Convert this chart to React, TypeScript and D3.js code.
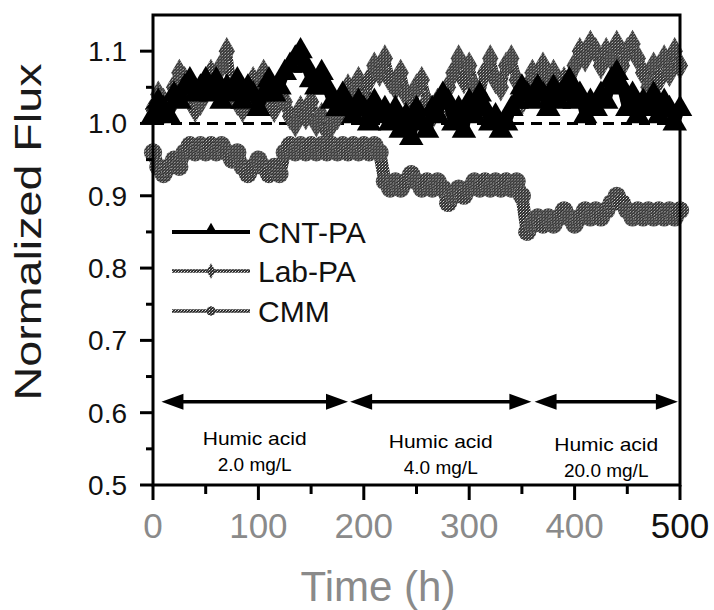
import * as d3 from "d3";

// time points (h)
const hours = [
  0, 5, 10, 15, 20, 25, 30, 35, 40, 45, 50, 55, 60, 65, 70, 75, 80, 85, 90, 95,
  100, 105, 110, 115, 120, 125, 130, 135, 140, 145, 150, 155, 160, 165, 170, 175, 180, 185, 190, 195,
  200, 205, 210, 215, 220, 225, 230, 235, 240, 245, 250, 255, 260, 265, 270, 275, 280, 285, 290, 295,
  300, 305, 310, 315, 320, 325, 330, 335, 340, 345, 350, 355, 360, 365, 370, 375, 380, 385, 390, 395,
  400, 405, 410, 415, 420, 425, 430, 435, 440, 445, 450, 455, 460, 465, 470, 475, 480, 485, 490, 495, 500,
];

const cntPA = [
  1.01, 1.03, 1.02, 1.01, 1.04, 1.03, 1.05, 1.06, 1.04, 1.05, 1.06, 1.04, 1.06, 1.03, 1.05, 1.04, 1.06, 1.03, 1.05, 1.04,
  1.02, 1.04, 1.06, 1.04, 1.05, 1.07, 1.08, 1.09, 1.1, 1.08, 1.06, 1.05, 1.07, 1.05, 1.03, 1.02, 1.04, 1.02, 1.01, 1.03,
  1.02, 1.0, 1.03, 1.01, 1.02, 1.0, 1.02, 0.99, 1.01, 0.98, 1.02, 1.0, 0.99, 1.02, 1.01, 1.04, 1.03, 1.0, 1.02, 0.99,
  1.03, 1.01, 1.04, 1.02, 1.0, 1.01, 0.99, 1.0, 1.02, 1.03, 1.05, 1.04, 1.03, 1.05, 1.04, 1.02, 1.05, 1.03, 1.04, 1.06,
  1.03, 1.04, 1.01, 1.03, 1.02, 1.04, 1.03, 1.06, 1.07, 1.05, 1.02, 1.04, 1.01, 1.03, 1.02, 1.04, 1.01, 1.03, 1.02, 1.0, 1.02,
];

const labPA = [
  1.02, 1.04, 1.03, 1.02, 1.05, 1.07, 1.06, 1.04, 1.02, 1.03, 1.05, 1.07, 1.06, 1.08, 1.1, 1.05, 1.03, 1.02, 1.04, 1.06,
  1.05, 1.07, 1.03, 1.02, 1.04, 1.03, 1.01, 1.0, 1.02, 1.01, 1.03, 1.0, 1.01, 0.99, 1.0, 1.01, 1.03, 1.05, 1.04, 1.06,
  1.03, 1.06, 1.08, 1.07, 1.09, 1.06, 1.05, 1.07, 1.04, 1.02, 1.05, 1.06, 1.03, 1.01, 1.03, 1.02, 1.05, 1.07, 1.09, 1.06,
  1.08, 1.05, 1.04, 1.07, 1.09, 1.06, 1.05, 1.08, 1.09, 1.06, 1.03, 1.05, 1.07, 1.06, 1.08, 1.05, 1.07, 1.04, 1.06, 1.05,
  1.08, 1.1, 1.09, 1.11, 1.1, 1.08, 1.1, 1.09, 1.11, 1.08, 1.1, 1.11, 1.09, 1.07, 1.05, 1.08, 1.06, 1.09, 1.07, 1.1, 1.08,
];

const cmm = [
  0.96, 0.94, 0.93, 0.94, 0.95, 0.94, 0.96, 0.97, 0.96, 0.97, 0.96, 0.97, 0.96, 0.97, 0.96, 0.95, 0.96, 0.94, 0.93, 0.94,
  0.95, 0.94, 0.93, 0.94, 0.93, 0.96, 0.97, 0.96, 0.97, 0.96, 0.97, 0.96, 0.97, 0.96, 0.97, 0.96, 0.97, 0.96, 0.97, 0.96,
  0.97, 0.96, 0.97, 0.96, 0.92, 0.91, 0.92, 0.91, 0.92, 0.93, 0.92, 0.91, 0.92, 0.91, 0.92, 0.91, 0.89, 0.9, 0.91, 0.9,
  0.91, 0.92, 0.91, 0.92, 0.91, 0.92, 0.91, 0.92, 0.91, 0.92, 0.9, 0.85, 0.86, 0.87, 0.86, 0.87, 0.86, 0.87, 0.88, 0.87,
  0.86, 0.87, 0.88, 0.87, 0.88, 0.87, 0.88, 0.89, 0.9, 0.89, 0.88, 0.87, 0.88, 0.87, 0.88, 0.87, 0.88, 0.87, 0.88, 0.87, 0.88,
];

const yTicks = [0.5, 0.6, 0.7, 0.8, 0.9, 1.0, 1.1];
const yMinorTicks = [0.55, 0.65, 0.75, 0.85, 0.95, 1.05];
const xTicks = [0, 100, 200, 300, 400, 500];
const xMinorTicks = [50, 150, 250, 350, 450];

// humic acid stages
const stageStart = [8, 187, 362];
const stageEnd = [185, 359, 498];
const stageConc = ["2.0 mg/L", "4.0 mg/L", "20.0 mg/L"];
const stageLevel = 0.615;

const legendNames = ["CNT-PA", "Lab-PA", "CMM"];

const FONT = "Liberation Sans";

export default function App() {
  const width = 714;
  const height = 610;

  const x = d3.scaleLinear().domain([0, 500]).range([153, 680]);
  const y = d3.scaleLinear().domain([0.5, 1.15]).range([485, 15]);

  const line = d3
    .line<number>()
    .x((_, i) => x(hours[i]))
    .y((d) => y(d));

  const tri = d3.symbol().type(d3.symbolTriangle).size(260)()!;
  const dia = d3.symbol().type(d3.symbolDiamond).size(230)()!;
  const circ = d3.symbol().type(d3.symbolCircle).size(260)()!;

  const legTri = d3.symbol().type(d3.symbolTriangle).size(70)()!;
  const legDia = d3.symbol().type(d3.symbolDiamond).size(70)()!;
  const legCirc = d3.symbol().type(d3.symbolCircle).size(70)()!;

  const series = [
    { values: cntPA, color: "#000", marker: tri, leg: legTri, fill: "#000", lw: 10 },
    { values: labPA, color: "url(#tex)", marker: dia, leg: legDia, fill: "url(#tex)", lw: 10 },
    { values: cmm, color: "url(#tex)", marker: circ, leg: legCirc, fill: "url(#tex)", lw: 13 },
  ];
  // gray series underneath, black CNT-PA on top
  const drawOrder = [1, 2, 0];

  const arrowHead = (tipX: number, yy: number, dir: number) =>
    `M${tipX},${yy} L${tipX - dir * 22},${yy - 8} L${tipX - dir * 22},${yy + 8} Z`;

  const legendY = [232, 271, 311];

  return (
    <svg
      width={width}
      height={height}
      style={{ position: "absolute", left: 0, top: 0, background: "#fff" }}
      fontFamily={FONT}
    >
      <defs>
        <pattern id="tex" width="3" height="3" patternUnits="userSpaceOnUse">
          <rect width="3" height="3" fill="#2e2e2e" />
          <rect x="1" y="1" width="1" height="1" fill="#e6e6e6" />
          <rect x="0" y="2" width="1" height="1" fill="#8c8c8c" />
          <rect x="2" y="0" width="1" height="1" fill="#6a6a6a" />
        </pattern>
      </defs>

      {/* reference line at 1.0 (under the data) */}
      <line
        x1={x(0)}
        x2={x(500)}
        y1={y(1.0)}
        y2={y(1.0)}
        stroke="#000"
        strokeWidth={3}
        strokeDasharray="11 7"
      />

      {/* series */}
      {drawOrder.map((k) => {
        const s = series[k];
        return (
          <g key={k}>
            <path
              d={line(s.values) || ""}
              fill="none"
              stroke={s.color}
              strokeWidth={s.lw}
              strokeLinejoin="round"
            />
            {s.values.map((v, i) => (
              <path
                key={i}
                d={s.marker}
                transform={`translate(${x(hours[i])},${y(v)})`}
                fill={s.fill}
              />
            ))}
          </g>
        );
      })}

      {/* stage arrows */}
      {stageStart.map((s, i) => {
        const yy = y(stageLevel);
        const x0 = x(s);
        const x1 = x(stageEnd[i]);
        const cx = (x0 + x1) / 2;
        return (
          <g key={i}>
            <line x1={x0 + 10} x2={x1 - 10} y1={yy} y2={yy} stroke="#000" strokeWidth={3.5} />
            <path d={arrowHead(x0, yy, -1)} fill="#000" />
            <path d={arrowHead(x1, yy, 1)} fill="#000" />
            <text
              x={cx}
              y={445 + i * 3}
              textAnchor="middle"
              fontSize={19}
              fontFamily={FONT}
              textLength={104}
              lengthAdjust="spacingAndGlyphs"
            >
              Humic acid
            </text>
            <text x={cx} y={471 + i * 3} textAnchor="middle" fontSize={19} fontFamily={FONT}>
              {stageConc[i]}
            </text>
          </g>
        );
      })}

      {/* legend */}
      {legendNames.map((name, i) => (
        <g key={name}>
          <line
            x1={172}
            x2={250}
            y1={legendY[i]}
            y2={legendY[i]}
            stroke={i === 0 ? "#000" : "url(#tex)"}
            strokeWidth={i === 0 ? 4 : 3.5}
          />
          <path
            d={series[i].leg}
            transform={`translate(211,${legendY[i] - (i === 0 ? 2 : 0)})`}
            fill={series[i].fill}
          />
          <text x={258} y={legendY[i] + 11} fontSize={30} fill="#111" fontFamily={FONT}>
            {name}
          </text>
        </g>
      ))}

      {/* frame */}
      <rect
        x={x(0)}
        y={y(1.15)}
        width={x(500) - x(0)}
        height={y(0.5) - y(1.15)}
        fill="none"
        stroke="#000"
        strokeWidth={3}
      />

      {/* y axis ticks */}
      {yTicks.map((t) => (
        <g key={t}>
          <line x1={x(0) - 13} x2={x(0)} y1={y(t)} y2={y(t)} stroke="#000" strokeWidth={3} />
          <text x={127} y={y(t) + 10} textAnchor="end" fontSize={28} fill="#111" fontFamily={FONT}>
            {t.toFixed(1)}
          </text>
        </g>
      ))}
      {yMinorTicks.map((t) => (
        <line key={t} x1={x(0) - 7} x2={x(0)} y1={y(t)} y2={y(t)} stroke="#000" strokeWidth={3} />
      ))}

      {/* x axis ticks */}
      {xTicks.map((t) => (
        <g key={t}>
          <line x1={x(t)} x2={x(t)} y1={y(0.5)} y2={y(0.5) + 15} stroke="#000" strokeWidth={3} />
          <text
            x={x(t)}
            y={538}
            textAnchor="middle"
            fontSize={35}
            fontFamily={FONT}
            fill={t === 500 ? "#111" : "#8a8a8a"}
          >
            {t}
          </text>
        </g>
      ))}
      {xMinorTicks.map((t) => (
        <line key={t} x1={x(t)} x2={x(t)} y1={y(0.5)} y2={y(0.5) + 9} stroke="#000" strokeWidth={3} />
      ))}

      {/* axis titles */}
      <text x={378} y={601} textAnchor="middle" fontSize={42} fill="#8a8a8a" fontFamily={FONT}>
        Time (h)
      </text>
      <text
        transform="translate(41,232) rotate(-90)"
        textAnchor="middle"
        fontSize={37}
        fill="#1a1a1a"
        fontFamily={FONT}
        textLength={337}
        lengthAdjust="spacingAndGlyphs"
      >
        Normalized Flux
      </text>
    </svg>
  );
}
